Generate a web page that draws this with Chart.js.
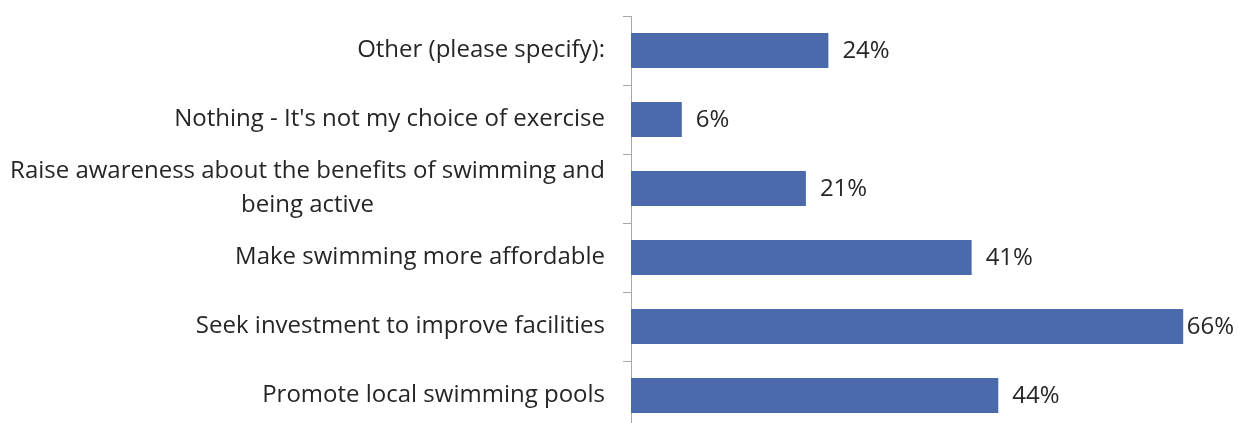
<!DOCTYPE html>
<html>
<head>
<meta charset="utf-8">
<script src="https://cdn.jsdelivr.net/npm/chart.js@4"></script>
<style>
  html, body { margin: 0; padding: 0; background: #ffffff; overflow: hidden; }
  #wrap { width: 1238px; height: 440px; position: relative; }
</style>
</head>
<body>
<div id="wrap"><canvas id="c" width="1238" height="440"></canvas></div>
<script>
const categories = [
  "Other (please specify):",
  "Nothing - It's not my choice of exercise",
  ["Raise awareness about the benefits of swimming and", "being active"],
  "Make swimming more affordable",
  "Seek investment to improve facilities",
  "Promote local swimming pools"
];
const values = [23.7, 6.1, 21.0, 40.9, 66.3, 44.1];
const valueLabels = values.map(v => Math.round(v) + "%");

const FONT = '24px "Open Sans", "Liberation Sans", sans-serif';
const TEXT_COLOR = '#262626';

const categoryLabelPlugin = {
  id: 'categoryLabels',
  afterDraw(chart) {
    const ctx = chart.ctx;
    const ys = chart.scales.y;
    ctx.save();
    ctx.font = FONT;
    ctx.fillStyle = TEXT_COLOR;
    ctx.textBaseline = 'middle';
    ctx.textAlign = 'center';
    const rightEdge = ys.right - 26;
    const lineH = 34;
    categories.forEach((cat, i) => {
      const lines = Array.isArray(cat) ? cat : [cat];
      const y = ys.getPixelForValue(i);
      const widest = Math.max(...lines.map(l => ctx.measureText(l).width));
      const cx = rightEdge - widest / 2;
      lines.forEach((line, j) => {
        const ly = y + (j - (lines.length - 1) / 2) * lineH;
        ctx.fillText(line, cx, ly);
      });
    });
    ctx.restore();
  }
};

const valueLabelPlugin = {
  id: 'valueLabels',
  afterDatasetsDraw(chart) {
    const ctx = chart.ctx;
    const meta = chart.getDatasetMeta(0);
    ctx.save();
    ctx.font = FONT;
    ctx.fillStyle = TEXT_COLOR;
    ctx.textBaseline = 'middle';
    ctx.textAlign = 'left';
    meta.data.forEach((bar, i) => {
      const txt = valueLabels[i];
      const w = ctx.measureText(txt).width;
      let x = bar.x + 14;
      if (x + w > chart.width - 4) x = chart.width - 4 - w;
      ctx.fillText(txt, x, bar.y + 1);
    });
    ctx.restore();
  }
};

new Chart(document.getElementById('c'), {
  type: 'bar',
  data: {
    labels: categories,
    datasets: [{
      data: values,
      backgroundColor: '#4a6aab',
      borderWidth: 0,
      categoryPercentage: 1,
      barPercentage: 0.51
    }]
  },
  options: {
    indexAxis: 'y',
    responsive: false,
    animation: false,
    events: [],
    layout: { padding: { top: 16, bottom: 10, left: 0, right: 24 } },
    plugins: {
      legend: { display: false },
      tooltip: { enabled: false },
      title: { display: false }
    },
    scales: {
      x: {
        display: false,
        min: 0,
        max: 70
      },
      y: {
        offset: true,
        ticks: { display: false },
        grid: {
          offset: true,
          drawOnChartArea: false,
          drawTicks: true,
          tickLength: 8,
          color: '#a6a6a6',
          lineWidth: 1
        },
        border: { display: true, color: '#a6a6a6', width: 1 },
        afterFit(scale) { scale.width = 631; }
      }
    }
  },
  plugins: [categoryLabelPlugin, valueLabelPlugin]
});
</script>
</body>
</html>
